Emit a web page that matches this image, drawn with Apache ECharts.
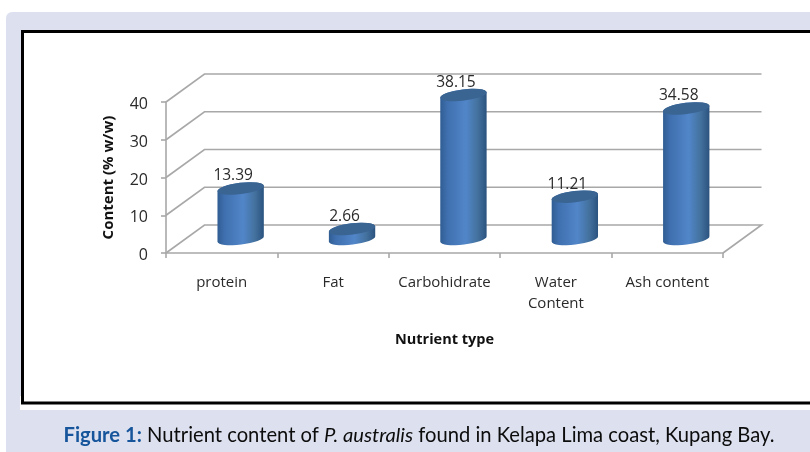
<!DOCTYPE html>
<html>
<head>
<meta charset="utf-8">
<style>
html,body{margin:0;padding:0;background:#fff;}
#chart{width:810px;height:452px;}
</style>
<script src="https://cdn.jsdelivr.net/npm/echarts@6/dist/echarts.min.js"></script>
</head>
<body>
<div id="chart"></div>
<script>
var categories = ['protein', 'Fat', 'Carbohidrate', 'Water\nContent', 'Ash content'];
var contents = [13.39, 2.66, 38.15, 11.21, 34.58];
var yTicks = [0, 10, 20, 30, 40];

var FONT = '"Open Sans"';
var GRID_COLOR = '#a8a8a8';
var DEPTH_X = 38.5, DEPTH_Y = 28;   // offset of back wall
var TILT = 2.8, RY = 5.6;           // cylinder ellipse

var chart = echarts.init(document.getElementById('chart'));

function renderWalls(params, api) {
    var rect = params.coordSys;
    var y = api.coord([0, api.value(1)])[1];
    var left = rect.x, right = rect.x + rect.width;
    var points = [[left, y], [left + DEPTH_X, y - DEPTH_Y], [right + DEPTH_X, y - DEPTH_Y]];
    if (api.value(1) === 0) {
        points.push([right, y]);
    }
    return {
        type: 'polyline',
        shape: {points: points},
        style: {fill: null, stroke: GRID_COLOR, lineWidth: 1.6}
    };
}

function renderCylinder(params, api) {
    var top = api.coord([api.value(0), api.value(1)]);
    var base = api.coord([api.value(0), 0]);
    var rx = api.size([1, 0])[0] * 0.208;
    var cx = top[0] + DEPTH_X / 2 - 0.3;
    var ty = top[1] - DEPTH_Y / 2;
    var by = base[1] - DEPTH_Y / 2;
    var rot = Math.atan2(TILT, rx) * 180 / Math.PI;
    var arc = 'A' + rx + ' ' + RY + ' ' + (-rot) + ' 0 ';
    var body = 'M' + (cx - rx) + ' ' + (ty + TILT)
        + 'L' + (cx - rx) + ' ' + (by + TILT)
        + arc + '0 ' + (cx + rx) + ' ' + (by - TILT)
        + 'L' + (cx + rx) + ' ' + (ty - TILT)
        + arc + '0 ' + (cx - rx) + ' ' + (ty + TILT) + 'Z';
    var lid = 'M' + (cx - rx) + ' ' + (ty + TILT)
        + arc + '1 ' + (cx + rx) + ' ' + (ty - TILT)
        + arc + '1 ' + (cx - rx) + ' ' + (ty + TILT) + 'Z';
    return {
        type: 'group',
        children: [{
            type: 'path',
            shape: {pathData: body},
            style: {
                fill: new echarts.graphic.LinearGradient(0, 0, 1, 0, [
                    {offset: 0, color: '#2f5c92'},
                    {offset: 0.15, color: '#3f6fae'},
                    {offset: 0.55, color: '#5186c9'},
                    {offset: 0.8, color: '#44729f'},
                    {offset: 1, color: '#2b527f'}
                ])
            }
        }, {
            type: 'path',
            shape: {pathData: lid},
            style: {fill: '#3a6492'}
        }, {
            type: 'text',
            style: {
                text: api.value(1).toFixed(2),
                x: cx - 7.5,
                y: ty - 12.5,
                align: 'center',
                verticalAlign: 'middle',
                fill: '#2a2a2a',
                font: '15.5px ' + FONT
            }
        }]
    };
}

var option = {
    backgroundColor: '#fff',
    animation: false,
    graphic: [
        {type: 'rect', z: -3, shape: {x: 6, y: 12, width: 820, height: 460, r: 6}, style: {fill: '#dde0ef'}},
        {type: 'rect', z: -2, shape: {x: 20, y: 396, width: 800, height: 14}, style: {fill: '#fff'}},
        {type: 'rect', z: -2, shape: {x: 22.5, y: 31.5, width: 800, height: 371.5}, style: {fill: '#fff', stroke: '#000', lineWidth: 3}},
        {
            type: 'text',
            z: 5,
            style: {
                x: 419,
                y: 435,
                align: 'center',
                verticalAlign: 'middle',
                text: '{b|Figure 1:} Nutrient content of {i|P. australis} found in Kelapa Lima coast, Kupang Bay.',
                font: '20.2px Lato',
                fill: '#0c0c0c',
                rich: {
                    b: {font: 'bold 20.2px Lato', fill: '#16559b'},
                    i: {font: 'italic 20.2px Lato', fill: '#0c0c0c'}
                }
            }
        }
    ],
    grid: {left: 166, right: 87, top: 102, bottom: 199},
    xAxis: {
        type: 'category',
        data: categories,
        name: 'Nutrient type',
        nameLocation: 'middle',
        nameGap: 79,
        nameTextStyle: {fontFamily: FONT, fontWeight: 'bold', fontSize: 14.5, color: '#111'},
        axisLine: {lineStyle: {color: GRID_COLOR, width: 1.6}},
        axisTick: {show: true, alignWithLabel: false, length: 5, lineStyle: {color: GRID_COLOR, width: 1.6}},
        axisLabel: {
            interval: 0,
            margin: 19,
            fontFamily: FONT,
            fontSize: 15,
            lineHeight: 21,
            color: '#2a2a2a'
        }
    },
    yAxis: {
        type: 'value',
        min: 0,
        max: 40,
        interval: 10,
        name: 'Content (% w/w)',
        nameLocation: 'middle',
        nameGap: 50,
        nameTextStyle: {fontFamily: FONT, fontWeight: 'bold', fontSize: 15, color: '#111'},
        splitLine: {show: false},
        axisLine: {show: true, lineStyle: {color: GRID_COLOR, width: 1.6}},
        axisTick: {show: true, length: 5, lineStyle: {color: GRID_COLOR, width: 1.6}},
        axisLabel: {margin: 18, verticalAlign: 'top', lineHeight: 5, fontFamily: FONT, fontSize: 16, color: '#2a2a2a'}
    },
    series: [
        {
            type: 'custom',
            name: 'walls',
            clip: false,
            silent: true,
            z: 1,
            renderItem: renderWalls,
            encode: {x: 0, y: 1},
            data: yTicks.map(function (v) { return [0, v]; })
        },
        {
            type: 'custom',
            name: 'Content',
            clip: false,
            z: 3,
            renderItem: renderCylinder,
            encode: {x: 0, y: 1},
            data: contents.map(function (v, i) { return [i, v]; })
        }
    ]
};

chart.setOption(option);
</script>
</body>
</html>
